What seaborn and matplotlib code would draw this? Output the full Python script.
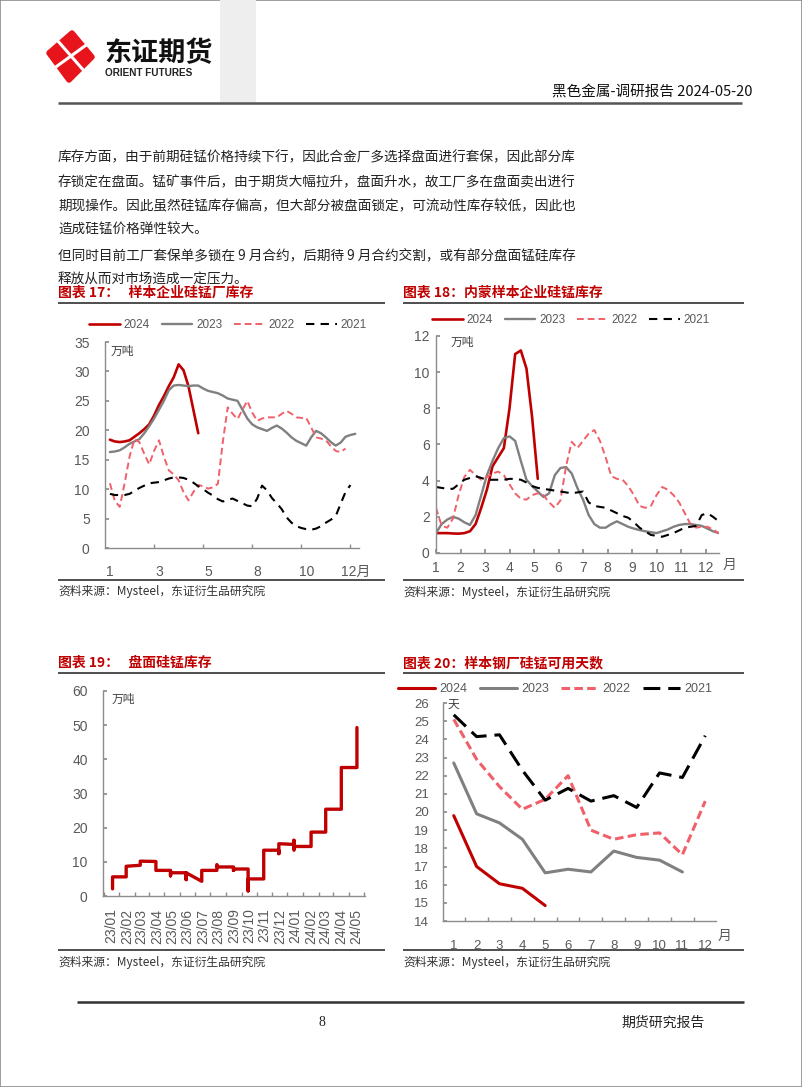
import numpy as np
import pandas as pd
import matplotlib
matplotlib.use("Agg")
import matplotlib.pyplot as plt
import matplotlib.dates as mdates
import seaborn as sns
from matplotlib.lines import Line2D
from matplotlib.patches import Polygon, Rectangle

# ---------------- data ----------------
series_names = ["2024", "2023", "2022", "2021"]

# Chart 17: sample plant SiMn inventory (10k t), weekly
c17_ticks = [1, 11, 21, 31, 41, 51]
c17_ticklabels = ["1", "3", "5", "8", "10", "12月"]
c17_2024 = [18.4, 18.1, 18.0, 18.1, 18.3, 18.9, 19.5, 20.2, 21.0, 22.5, 24.3, 25.8, 27.5, 29.0,
            31.2, 30.2, 27.5, 23.5, 19.5]
c17_2023 = [16.3, 16.4, 16.6, 17.1, 17.7, 18.1, 18.5, 19.5, 20.7, 22.0, 23.5, 25.0, 26.8, 27.6,
            27.7, 27.6, 27.5, 27.6, 27.6, 27.1, 26.7, 26.5, 26.3, 25.9, 25.4, 25.2, 25.0, 23.5,
            22.0, 21.0, 20.5, 20.2, 19.9, 20.4, 20.8, 20.3, 19.6, 18.8, 18.2, 17.8, 17.4, 18.8,
            19.9, 19.5, 18.8, 18.0, 17.4, 17.9, 18.9, 19.2, 19.4]
c17_2022 = [11.0, 8.0, 7.0, 11.0, 15.5, 18.5, 18.0, 16.0, 14.2, 16.5, 18.3, 15.5, 13.2, 12.5,
            11.5, 9.5, 8.1, 9.5, 10.7, 10.5, 10.1, 10.3, 10.9, 18.0, 23.9, 22.8, 21.9, 23.5,
            25.0, 23.0, 21.6, 22.0, 22.2, 22.2, 22.2, 22.8, 23.3, 22.8, 22.2, 22.1, 22.1, 20.5,
            18.8, 18.6, 18.3, 17.3, 16.5, 16.3, 16.9]
c17_2021 = [9.2, 9.0, 9.0, 9.0, 9.2, 9.7, 10.2, 10.6, 11.0, 11.1, 11.2, 11.5, 11.8, 12.0,
            12.0, 11.9, 11.6, 11.1, 10.5, 10.0, 9.4, 8.9, 8.3, 7.9, 8.2, 8.4, 8.0, 7.6, 7.2,
            7.1, 8.4, 10.6, 9.8, 8.5, 7.6, 6.6, 5.2, 4.3, 3.7, 3.4, 3.2, 3.1, 3.3, 3.7, 4.3,
            4.8, 5.4, 7.5, 9.5, 10.7]

# Chart 18: Inner Mongolia sample plant SiMn inventory (10k t), weekly
c18_months = list(range(1, 13))
c18_2024 = [1.1, 1.1, 1.1, 1.08, 1.07, 1.1, 1.2, 1.6, 2.5, 3.5, 4.8, 5.3, 5.8, 8.0, 11.0,
            11.2, 10.2, 7.5, 4.1]
c18_2023 = [1.1, 1.6, 1.85, 2.0, 1.9, 1.7, 1.55, 2.1, 3.2, 4.3, 5.1, 5.8, 6.35, 6.45, 6.2,
            5.1, 4.05, 3.7, 3.4, 3.1, 3.3, 4.3, 4.7, 4.75, 4.4, 3.6, 2.95, 2.1, 1.6, 1.4, 1.4,
            1.6, 1.75, 1.6, 1.45, 1.35, 1.27, 1.2, 1.15, 1.1, 1.2, 1.3, 1.45, 1.55, 1.6, 1.6,
            1.55, 1.5, 1.35, 1.2, 1.1]
c18_2022 = [2.5, 1.5, 1.4, 1.9, 3.2, 4.2, 4.6, 4.3, 4.05, 4.2, 4.4, 4.5, 4.3, 3.8, 3.3, 3.0,
            2.95, 3.2, 3.3, 3.2, 2.8, 2.5, 2.9, 4.8, 6.15, 5.8, 6.2, 6.6, 6.8, 6.2, 5.3, 4.25,
            4.1, 4.05, 3.7, 3.2, 2.6, 2.5, 2.6, 3.2, 3.65, 3.5, 3.2, 2.8, 2.2, 1.6, 1.4, 1.45,
            1.45, 1.3, 1.1]
c18_2021 = [3.65, 3.6, 3.55, 3.55, 3.8, 4.05, 4.15, 4.25, 4.15, 4.05, 4.05, 4.05, 4.05, 4.1,
            4.1, 4.05, 3.9, 3.7, 3.6, 3.55, 3.5, 3.45, 3.4, 3.35, 3.3, 3.35, 3.4, 2.8, 2.6,
            2.55, 2.5, 2.35, 2.2, 2.05, 1.95, 1.7, 1.4, 1.2, 1.0, 0.95, 0.9, 1.0, 1.1, 1.25,
            1.4, 1.45, 1.5, 2.1, 2.2, 2.0, 1.75]

# Chart 19: futures warehouse-receipt SiMn inventory (10k t), daily steps
c19_dates = ["2023-01-03", "2023-01-03", "2023-01-30", "2023-01-30", "2023-02-27", "2023-02-27",
             "2023-03-30", "2023-03-30", "2023-04-28", "2023-04-28", "2023-04-28", "2023-05-29",
             "2023-05-29", "2023-05-29", "2023-06-29", "2023-06-29", "2023-07-29", "2023-07-29",
             "2023-07-30", "2023-08-31", "2023-08-31", "2023-08-31", "2023-09-29", "2023-09-29",
             "2023-09-29", "2023-10-30", "2023-10-30", "2023-11-29", "2023-11-29", "2023-11-29",
             "2023-12-29", "2023-12-29", "2023-12-29", "2023-12-30", "2024-02-01", "2024-02-01",
             "2024-03-01", "2024-03-01", "2024-04-01", "2024-04-01", "2024-05-02", "2024-05-02"]
c19_values = [2.1, 5.6, 5.6, 8.7, 9.0, 10.2,
              10.1, 7.5, 7.5, 5.9, 6.8, 6.8,
              4.8, 6.8, 4.3, 7.5, 7.5, 9.2,
              8.5, 8.5, 7.5, 7.9, 7.9, 1.5,
              5.0, 5.0, 13.4, 13.4, 12.4, 15.3,
              15.1, 16.3, 13.4, 14.5, 14.5, 18.7,
              18.7, 25.4, 25.4, 37.6, 37.6, 49.3]

# Chart 20: steel mill SiMn available days, monthly
c20_months = list(range(1, 13))
c20_2024 = [19.8, 17.0, 16.05, 15.8, 14.85]
c20_2023 = [22.7, 19.9, 19.4, 18.5, 16.65, 16.85, 16.7, 17.85, 17.5, 17.35, 16.7]
c20_2022 = [25.1, 22.9, 21.4, 20.15, 20.7, 22.0, 19.0, 18.5, 18.75, 18.85, 17.65, 20.6]
c20_2021 = [25.35, 24.15, 24.25, 22.3, 20.65, 21.3, 20.6, 20.9, 20.25, 22.15, 21.9, 24.2]

body_lines = [
    "库存方面，由于前期硅锰价格持续下行，因此合金厂多选择盘面进行套保，因此部分库",
    "存锁定在盘面。锰矿事件后，由于期货大幅拉升，盘面升水，故工厂多在盘面卖出进行",
    "期现操作。因此虽然硅锰库存偏高，但大部分被盘面锁定，可流动性库存较低，因此也",
    "造成硅锰价格弹性较大。",
    "但同时目前工厂套保单多锁在 9 月合约，后期待 9 月合约交割，或有部分盘面锰硅库存",
    "释放从而对市场造成一定压力。",
]

# ---------------- style ----------------
sns.set_theme(style="white")
plt.rcParams["font.family"] = ["Liberation Sans", "Noto Sans CJK SC", "DejaVu Sans"]
plt.rcParams["axes.unicode_minus"] = False
CJK = ["Noto Sans CJK SC", "DejaVu Sans"]

RED = "#C00000"
GRAY = "#808080"
PINK = "#F0606A"
BLACK = "#000000"
TICKC = "#595959"
SPINE = "#8C8C8C"

W, H = 802, 1087
fig = plt.figure(figsize=(W / 100, H / 100), dpi=100)
fig.patch.set_facecolor("white")


def fx(x):
    return x / W


def fy(y):
    return 1 - y / H


def rect(l, t, r, b):
    return [fx(l), fy(b), (r - l) / W, (b - t) / H]


def hline(x0, x1, y, color="#404040", lw=1.3):
    fig.add_artist(Line2D([fx(x0), fx(x1)], [fy(y), fy(y)], transform=fig.transFigure,
                          color=color, lw=lw, solid_capstyle="butt"))


def ftext(x, y, s, **kw):
    kw.setdefault("va", "center")
    fig.text(fx(x), fy(y), s, **kw)


# ---------------- page decorations ----------------
fig.add_artist(Rectangle((0, 0), 1, 1, transform=fig.transFigure, fill=False,
                         edgecolor="#8C8C8C", lw=1.2))
fig.add_artist(Rectangle((fx(220), fy(103)), 36 / W, 103 / H, transform=fig.transFigure,
                         facecolor="#EEEEEE", edgecolor="none"))
# logo
logo = [(72, 33), (92, 57), (69, 80), (49, 53)]
fig.add_artist(Polygon([(fx(a), fy(b)) for a, b in logo], closed=True, transform=fig.transFigure,
                       facecolor="#E8141B", edgecolor="#E8141B", lw=4, joinstyle="round"))
for (a0, b0, a1, b1) in [(57, 40, 85, 72), (53, 69, 89, 43)]:
    fig.add_artist(Line2D([fx(a0), fx(a1)], [fy(b0), fy(b1)], transform=fig.transFigure,
                          color="white", lw=2.2))
ftext(104, 53, "东证期货", fontsize=19.5, fontweight="heavy", family=CJK, color="#111111")
ftext(105, 73, "ORIENT FUTURES", fontsize=7.2, fontweight="bold", color="#222222")
ftext(753, 92, "黑色金属-调研报告 2024-05-20", fontsize=10.5, ha="right", family=CJK,
      color="#111111")
hline(58, 742, 103, color="#555555", lw=1.8)

for i, line in enumerate(body_lines):
    ftext(58, [157, 182, 206, 230, 255, 279][i], line, fontsize=9.8, family=CJK, color="#222222")

# footer
hline(77, 744, 1002, color="#333333", lw=1.8)
ftext(322, 1023, "8", fontsize=10, family=["Liberation Serif"], color="#222222", ha="center")
ftext(621, 1023, "期货研究报告", fontsize=10, family=CJK, color="#222222")

# chart titles / rules / sources
titles = [(58, 293, "图表 17：   样本企业硅锰厂库存"), (403, 293, "图表 18：内蒙样本企业硅锰库存"),
          (58, 663, "图表 19：   盘面硅锰库存"), (403, 663, "图表 20：样本钢厂硅锰可用天数")]
for x, y, s in titles:
    ftext(x, y, s, fontsize=10, fontweight="bold", family=CJK, color=RED)
for x0, x1 in [(58, 385), (403, 744)]:
    hline(x0, x1, 303)
    hline(x0, x1, 580)
    hline(x0, x1, 673)
    hline(x0, x1, 950)
src = "资料来源：Mysteel，东证衍生品研究院"
for x, y in [(58, 591), (403, 592), (58, 962), (403, 962)]:
    ftext(x, y, src, fontsize=8.5, family=CJK, color="#333333")


def style_axes(ax, ypad, fs=10):
    sns.despine(ax=ax)
    for s in ["left", "bottom"]:
        ax.spines[s].set_color(SPINE)
        ax.spines[s].set_linewidth(1.0)
    ax.set_facecolor("none")
    ax.tick_params(axis="both", which="both", colors=SPINE, labelcolor=TICKC, labelsize=fs)
    ax.tick_params(axis="y", which="major", left=True, direction="in", length=3, pad=ypad)
    ax.set_xlabel("")
    ax.set_ylabel("")


def unit_label(ax, x, y, s):
    ax.text(x, y, s, transform=ax.transAxes, fontsize=8.5, family=CJK, color="#404040",
            va="center", ha="left")


def add_legend(ax, cx, cy, fs=8.5, hl=2.6):
    h, l = ax.get_legend_handles_labels()
    ax.legend(h, l, loc="center", bbox_to_anchor=(fx(cx), fy(cy)), bbox_transform=fig.transFigure,
              ncol=4, frameon=False, fontsize=fs, handlelength=hl, handletextpad=0.3,
              columnspacing=1.0, labelcolor=TICKC, borderaxespad=0, borderpad=0)


def draw(ax, x, y, color, lw, ls, label):
    sns.lineplot(x=x, y=y, ax=ax, color=color, lw=lw, linestyle=ls, label=label,
                 estimator=None, sort=False)


# ---------------- chart 17 ----------------
ax17 = fig.add_axes(rect(105, 342, 359, 548))
c17 = [c17_2024, c17_2023, c17_2022, c17_2021]
sty17 = [(RED, 1.9, "-"), (GRAY, 1.7, "-"), (PINK, 1.4, (0, (3.5, 2))), (BLACK, 1.5, (0, (4, 3)))]
for name, vals, (c, lw, ls) in zip(series_names, c17, sty17):
    draw(ax17, list(range(1, len(vals) + 1)), vals, c, lw, ls, name)
ax17.set_xlim(0, 51.75)
ax17.set_ylim(0, 35)
ax17.set_yticks(range(0, 36, 5))
ax17.set_xticks(c17_ticks)
ax17.set_xticklabels(c17_ticklabels, family=["Liberation Sans", "Noto Sans CJK SC"])
ax17.set_xticks([10, 20, 30, 40, 50], minor=True)
style_axes(ax17, 11)
ax17.tick_params(axis="x", which="major", bottom=False, pad=6)
ax17.tick_params(axis="x", which="minor", bottom=True, direction="in", length=3)
unit_label(ax17, 0.02, 0.956, "万吨")
add_legend(ax17, 228, 325)

# ---------------- chart 18 ----------------
ax18 = fig.add_axes(rect(436, 336, 719, 553))
c18 = [c18_2024, c18_2023, c18_2022, c18_2021]
sty18 = [(RED, 1.9, "-"), (GRAY, 1.7, "-"), (PINK, 1.4, (0, (3.5, 2))), (BLACK, 1.5, (0, (4, 3)))]
for name, vals, (c, lw, ls) in zip(series_names, c18, sty18):
    wk = np.arange(len(vals))
    draw(ax18, 1 + wk * 12 / 52, vals, c, lw, ls, name)
ax18.set_xlim(1, 12.55)
ax18.set_ylim(0, 12)
ax18.set_yticks(range(0, 13, 2))
ax18.set_xticks(c18_months)
style_axes(ax18, 4.5)
ax18.tick_params(axis="x", which="major", bottom=True, direction="in", length=3, pad=6)
ax18.text(1.012, -0.055, "月", transform=ax18.transAxes, fontsize=10, family=CJK,
          color=TICKC, va="center", ha="left")
unit_label(ax18, 0.05, 0.972, "万吨")
add_legend(ax18, 571, 320)

# ---------------- chart 19 ----------------
ax19 = fig.add_axes(rect(103, 691, 365, 896))
d19 = mdates.date2num(pd.to_datetime(c19_dates))
draw(ax19, d19, c19_values, RED, 2.4, "-", None)
ax19.set_xlim(mdates.date2num(pd.Timestamp("2022-12-15")), mdates.date2num(pd.Timestamp("2024-05-18")))
ax19.set_ylim(0, 60)
ax19.set_yticks(range(0, 61, 10))
ax19.xaxis.set_major_locator(mdates.MonthLocator())
ax19.xaxis.set_major_formatter(mdates.DateFormatter("%y/%m"))
ax19.xaxis.set_minor_locator(mdates.MonthLocator(bymonthday=16))
style_axes(ax19, 11)
ax19.tick_params(axis="x", which="major", bottom=False, pad=3, labelsize=10, rotation=90)
ax19.tick_params(axis="x", which="minor", bottom=True, direction="in", length=3)
if ax19.get_legend() is not None:
    ax19.get_legend().remove()
unit_label(ax19, 0.034, 0.961, "万吨")

# ---------------- chart 20 ----------------
ax20 = fig.add_axes(rect(443, 703, 716, 921))
c20 = [c20_2024, c20_2023, c20_2022, c20_2021]
sty20 = [(RED, 2.2, "-"), (GRAY, 2.2, "-"), (PINK, 2.2, (0, (2.8, 1.4))), (BLACK, 2.2, (0, (5.5, 2.6)))]
for name, vals, (c, lw, ls) in zip(series_names, c20, sty20):
    draw(ax20, c20_months[:len(vals)], vals, c, lw, ls, name)
ax20.set_xlim(0.53, 12.47)
ax20.set_ylim(14, 26)
ax20.set_yticks(range(14, 27))
ax20.set_xticks(c20_months)
ax20.set_xticks([m + 0.5 for m in c20_months[:-1]], minor=True)
style_axes(ax20, 10, fs=9.5)
ax20.tick_params(axis="x", which="major", bottom=False, pad=8)
ax20.tick_params(axis="x", which="minor", bottom=True, direction="in", length=3)
ax20.text(1.005, -0.07, "月", transform=ax20.transAxes, fontsize=10, family=CJK,
          color=TICKC, va="center", ha="left")
unit_label(ax20, 0.018, 0.995, "天")
add_legend(ax20, 555, 689, fs=9, hl=3.0)

fig.savefig("out.png", dpi=100, facecolor="white")
